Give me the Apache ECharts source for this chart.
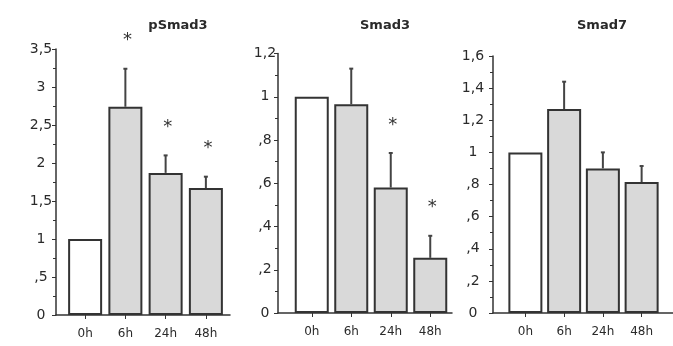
<!DOCTYPE html>
<html>
<head>
<meta charset="utf-8">
<script src="https://cdn.jsdelivr.net/npm/echarts@6/dist/echarts.min.js"></script>
<style>
  html, body { margin: 0; padding: 0; background: #fff; }
  #chart { width: 673px; height: 346px; }
</style>
</head>
<body>
<div id="chart"></div>
<script>
// categories
const categories = ['0h', '6h', '24h', '48h']

// pSmad3
const pSmad3Mean = [1, 2.74, 1.87, 1.67]
const pSmad3Upper = [null, 3.24, 2.1, 1.82]
const pSmad3Star = [false, true, true, true]

// Smad3
const smad3Mean = [1, 0.965, 0.58, 0.255]
const smad3Upper = [null, 1.13, 0.74, 0.357]
const smad3Star = [false, false, true, true]

// Smad7
const smad7Mean = [1, 1.27, 0.9, 0.815]
const smad7Upper = [null, 1.44, 1.0, 0.915]
const smad7Star = [false, false, false, false]

// y-axis ranges
const yMax = [3.5, 1.2, 1.6]
const yStep = [0.5, 0.2, 0.2]
const titles = ['pSmad3', 'Smad3', 'Smad7']

// panel geometry (pixels)
const panels = [
  { axisX: 56, lineEnd: 230, top: 49, bottom: 315, dataL: 65, dataR: 226, titleX: 173, labelMargin: 15 },
  { axisX: 278, lineEnd: 452, top: 53.5, bottom: 313, dataL: 292, dataR: 450, titleX: 380, labelMargin: 13 },
  { axisX: 493, lineEnd: 673, top: 56, bottom: 313, dataL: 506, dataR: 661, titleX: 597, labelMargin: 20 }
]
const means = [pSmad3Mean, smad3Mean, smad7Mean]
const uppers = [pSmad3Upper, smad3Upper, smad7Upper]
const stars = [pSmad3Star, smad3Star, smad7Star]

const textColor = '#2a2a2a'
const lineColor = '#333'
const fontFam = 'DejaVu Sans'

function fmt(v) {
  let s = String(+v.toFixed(2)).replace('.', ',')
  if (s.indexOf('0,') === 0) s = s.slice(1)
  return s
}

let grid = [], xAxis = [], yAxis = [], series = [], title = []

panels.forEach((p, i) => {
  // frame grid: y axis + full x axis line
  grid.push({ left: p.axisX, width: p.lineEnd - p.axisX, top: p.top, height: p.bottom - p.top })
  // data grid: bars
  grid.push({ left: p.dataL, width: p.dataR - p.dataL, top: p.top, height: p.bottom - p.top })

  xAxis.push({
    type: 'value', gridIndex: 2 * i, min: 0, max: 1,
    axisLine: { show: true, lineStyle: { color: lineColor, width: 1.5 } },
    axisTick: { show: false }, axisLabel: { show: false }, splitLine: { show: false }
  })
  xAxis.push({
    type: 'category', gridIndex: 2 * i + 1, data: categories,
    axisLine: { show: false },
    axisTick: { show: true, alignWithLabel: true, length: 4, lineStyle: { color: lineColor } },
    axisLabel: { color: textColor, fontFamily: fontFam, fontSize: 12, margin: 13 }
  })
  yAxis.push({
    type: 'value', gridIndex: 2 * i, min: 0, max: yMax[i], interval: yStep[i],
    axisLine: { show: true, lineStyle: { color: lineColor, width: 1.5 } },
    axisTick: { show: true, length: 4, lineStyle: { color: lineColor } },
    minorTick: { show: true, splitNumber: 2, length: 3, lineStyle: { color: lineColor } },
    splitLine: { show: false },
    axisLabel: { color: textColor, fontFamily: fontFam, fontSize: 14, align: 'center', margin: p.labelMargin, formatter: fmt }
  })
  yAxis.push({ type: 'value', gridIndex: 2 * i + 1, min: 0, max: yMax[i], show: false })

  series.push({
    type: 'bar', xAxisIndex: 2 * i + 1, yAxisIndex: 2 * i + 1, barWidth: 34,
    data: means[i].map((v, k) => ({ value: v, itemStyle: { color: k === 0 ? '#ffffff' : '#d9d9d9' } })),
    itemStyle: { borderColor: lineColor, borderWidth: 2 }
  })

  // error bars + significance stars
  series.push({
    type: 'custom', xAxisIndex: 2 * i + 1, yAxisIndex: 2 * i + 1, z: 5,
    data: means[i].map((v, k) => [k, v, uppers[i][k] == null ? v : uppers[i][k], stars[i][k] ? 1 : 0]),
    renderItem: (params, api) => {
      const base = api.coord([api.value(0), api.value(1)])
      const top = api.coord([api.value(0), api.value(2)])
      const children = []
      if (api.value(2) > api.value(1)) {
        children.push({ type: 'line', shape: { x1: top[0], y1: base[1], x2: top[0], y2: top[1] }, style: { stroke: '#444', lineWidth: 2 } })
        children.push({ type: 'line', shape: { x1: top[0] - 2, y1: top[1], x2: top[0] + 2, y2: top[1] }, style: { stroke: '#444', lineWidth: 2 } })
      }
      if (api.value(3) === 1) {
        children.push({ type: 'text', style: { text: '*', x: top[0] + 2, y: top[1] - 37, fill: '#333', font: '18px DejaVu Sans', align: 'center', verticalAlign: 'top' } })
      }
      return { type: 'group', children }
    }
  })

  title.push({
    text: titles[i], left: p.titleX, top: 14, textAlign: 'center',
    textStyle: { fontFamily: fontFam, fontSize: 13, fontWeight: 'bold', color: textColor }
  })
})

const chart = echarts.init(document.getElementById('chart'))
chart.setOption({ animation: false, title, grid, xAxis, yAxis, series })
</script>
</body>
</html>
